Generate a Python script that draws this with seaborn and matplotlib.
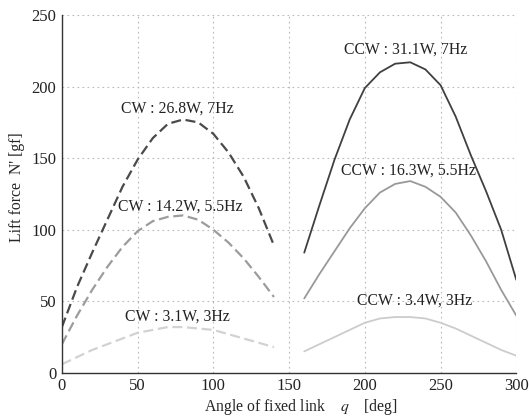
import matplotlib
matplotlib.use("Agg")
import matplotlib.pyplot as plt
import pandas as pd
import seaborn as sns

# angle of fixed link [deg]
cw_angle = [0, 10, 20, 30, 40, 50, 60, 70, 80, 90, 100, 110, 120, 130, 140]
ccw_angle = [160, 170, 180, 190, 200, 210, 220, 230, 240, 250, 260, 270, 280, 290, 300]

# lift force [gf]
cw_7hz = [32, 60, 84, 107, 130, 149, 164, 174, 177, 175, 167, 154, 137, 115, 89]
cw_55hz = [20, 40, 58, 74, 88, 99, 106, 109, 110, 107, 100, 91, 80, 67, 53]
cw_3hz = [6, 11, 16, 20, 24, 28, 30, 32, 32, 31, 30, 27, 24, 21, 18]
ccw_7hz = [84, 117, 149, 177, 199, 210, 216, 217, 212, 201, 179, 152, 127, 100, 65]
ccw_55hz = [52, 69, 85, 101, 115, 126, 132, 134, 130, 123, 112, 96, 78, 58, 40]
ccw_3hz = [15, 20, 25, 30, 35, 38, 39, 39, 38, 35, 31, 26, 21, 16, 12]

labels = ["CW : 26.8W, 7Hz", "CW : 14.2W, 5.5Hz", "CW : 3.1W, 3Hz",
          "CCW : 31.1W, 7Hz", "CCW : 16.3W, 5.5Hz", "CCW : 3.4W, 3Hz"]

sns.set_style("white")
plt.rcParams["font.family"] = ["Liberation Serif", "DejaVu Serif"]
plt.rcParams["mathtext.fontset"] = "stix"

fig, ax = plt.subplots(figsize=(5.29, 4.18), dpi=100)
fig.subplots_adjust(left=0.117, right=0.976, bottom=0.108, top=0.964)

series = [
    (cw_angle, cw_7hz, "#4a4a4a", True),
    (cw_angle, cw_55hz, "#9c9c9c", True),
    (cw_angle, cw_3hz, "#d2d2d2", True),
    (ccw_angle, ccw_7hz, "#404040", False),
    (ccw_angle, ccw_55hz, "#999999", False),
    (ccw_angle, ccw_3hz, "#cccccc", False),
]
for (x, y, color, dashed), lab in zip(series, labels):
    df = pd.DataFrame({"angle": x, "lift": y})
    if dashed:
        sns.lineplot(data=df, x="angle", y="lift", ax=ax, color=color,
                     linewidth=1.6, linestyle=(0, (4.5, 2.1)))
    else:
        sns.lineplot(data=df, x="angle", y="lift", ax=ax, color=color,
                     linewidth=1.3)

# curve annotations
ann_pos = [(76.5, 184.5), (78, 115.8), (76.3, 39),
           (227.3, 225.5), (228.5, 141.3), (232.8, 50.2)]
for (tx, ty), lab in zip(ann_pos, labels):
    ax.text(tx, ty, lab, ha="center", va="center", fontsize=11.3, color="#222222")

ax.set_xlim(0, 300)
ax.set_ylim(0, 250)
ax.set_xticks(range(0, 301, 50))
ax.set_yticks(range(0, 251, 50))
ax.grid(True, linestyle=(0, (1.5, 3)), color="#b8b8b8", linewidth=0.8)
ax.set_axisbelow(True)
ax.tick_params(direction="in", length=4, labelsize=12, colors="#333333",
               labelcolor="#222222", pad=4)
for side in ["top", "right"]:
    ax.spines[side].set_visible(False)
for side in ["left", "bottom"]:
    ax.spines[side].set_color("#333333")
    ax.spines[side].set_linewidth(1.0)

ax.set_xlabel("Angle of fixed link    $q$    [deg]", fontsize=11.3)
ax.xaxis.set_label_coords(0.525, -0.068)
ax.set_ylabel("Lift force  N' [gf]", fontsize=11.3)
ax.yaxis.set_label_coords(-0.082, 0.52)

plt.savefig("out.png", dpi=100)
